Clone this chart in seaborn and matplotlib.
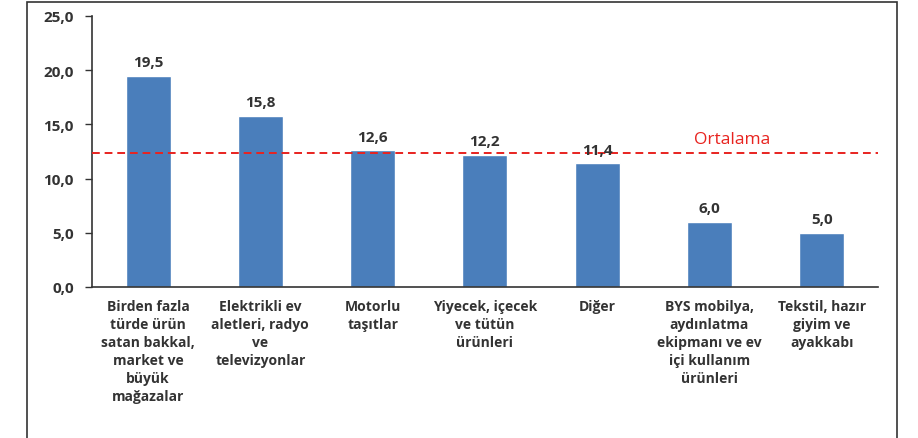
import pandas as pd
import matplotlib.pyplot as plt
import seaborn as sns
from matplotlib.patches import Rectangle

#
# Data

categories = ["Birden fazla\ntürde ürün\nsatan bakkal,\nmarket ve\nbüyük\nmağazalar",
              "Elektrikli ev\naletleri, radyo\nve\ntelevizyonlar",
              "Motorlu\ntaşıtlar",
              "Yiyecek, içecek\nve tütün\nürünleri",
              "Diğer",
              "BYS mobilya,\naydınlatma\nekipmanı ve ev\niçi kullanım\nürünleri",
              "Tekstil, hazır\ngiyim ve\nayakkabı"]
values = [19.5, 15.8, 12.6, 12.2, 11.4, 6.0, 5.0]
mean_value = 12.4
y_ticks = [0, 5, 10, 15, 20, 25]

df = pd.DataFrame({"category": categories, "value": values})

#%%
# Build the chart

sns.set_style("white")
plt.rcParams["font.family"] = ["Open Sans", "DejaVu Sans"]

fig = plt.figure(figsize=(9.18, 4.39), dpi=100)
ax = fig.add_axes([0.1002, 0.344, 0.856, 0.6175])

text_col = "#333333"
sns.barplot(data=df, x="category", y="value", color="#4a7ebb", saturation=1,
            width=0.4, ax=ax)

ax.axhline(mean_value, color="#e8231f", linestyle=(0, (4, 2.5)), linewidth=1.4, zorder=3)
ax.text(5.2, mean_value + 0.5, "Ortalama", color="#e8231f", fontsize=12.5,
        ha="center", va="bottom")

for i, v in enumerate(values):
    ax.text(i, v + 0.6, f"{v:.1f}".replace(".", ","), ha="center", va="bottom",
            fontsize=11, fontweight="bold", color=text_col)

ax.set_ylim(0, 25)
ax.set_xlim(-0.5, len(values) - 0.5)
ax.set_yticks(y_ticks)
ax.set_yticklabels([f"{t:.1f}".replace(".", ",") for t in y_ticks],
                   fontsize=11, fontweight="bold", color=text_col)
ax.set_xticks(range(len(values)))
ax.set_xticklabels(categories, fontsize=10, fontweight="bold", color=text_col,
                   linespacing=1.35, va="top")
ax.set_xticks([i - 0.5 for i in range(len(values) + 1)], minor=True)
ax.tick_params(axis="x", which="major", length=0, pad=9)
ax.tick_params(axis="x", which="minor", length=5, direction="inout", width=1, color="#333333")
ax.tick_params(axis="y", length=5, direction="out", width=1, color="#333333", left=True, pad=8)
ax.set_xlabel("")
ax.set_ylabel("")

for side in ["top", "right"]:
    ax.spines[side].set_visible(False)
for side in ["left", "bottom"]:
    ax.spines[side].set_color("#333333")
    ax.spines[side].set_linewidth(1.2)

# outer frame of the chart area
fig.patches.append(Rectangle((27 / 918, -0.01), 870 / 918, 1 - 3 / 439 + 0.01,
                             transform=fig.transFigure, fill=False,
                             edgecolor="#333333", linewidth=1.2))

fig.savefig("out.png")
